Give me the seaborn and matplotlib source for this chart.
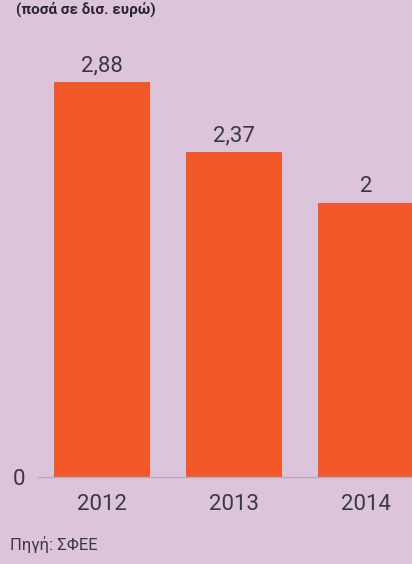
import matplotlib
matplotlib.use("Agg")
import matplotlib.pyplot as plt
import seaborn as sns
import pandas as pd

# --- Data ---
years = ["2012", "2013", "2014"]
values = [2.88, 2.37, 2.0]
title_text = "(ποσά σε δισ. ευρώ)"
source_text = "Πηγή: ΣΦΕΕ"

bg_color = "#dcc4dc"
bar_color = "#f3582a"
text_color = "#3a3846"

sns.set_style("white")
plt.rcParams["font.family"] = ["Roboto", "DejaVu Sans"]

df = pd.DataFrame({"year": years, "value": values})

fig = plt.figure(figsize=(4.12, 5.64), dpi=100, facecolor=bg_color)
ax = fig.add_axes([0.092, 0.154, 0.908, 0.846])
ax.set_facecolor(bg_color)

sns.barplot(data=df, x="year", y="value", color=bar_color, saturation=1,
            width=0.73, linewidth=0, ax=ax)

ax.set_xlim(-0.485, 2.348)
ax.set_ylim(0, 3.48)

# value labels with comma decimal separator
labels = [f"{v:g}".replace(".", ",") for v in values]
ax.bar_label(ax.containers[0], labels=labels, padding=4,
             fontsize=16, color=text_color)

ax.set_xlabel("")
ax.set_ylabel("")
ax.set_yticks([0])
ax.set_yticklabels(["0"])
ax.tick_params(axis="y", length=0, pad=9, labelsize=16, labelcolor=text_color)
ax.tick_params(axis="x", length=0, pad=12, labelsize=16, labelcolor=text_color)

for side in ["top", "right", "left"]:
    ax.spines[side].set_visible(False)
ax.spines["bottom"].set_color("#b9a9bf")
ax.spines["bottom"].set_linewidth(1)

# subtitle at top and source note
fig.text(0.04, 1 - 2 / 564, title_text, fontsize=11, fontweight="bold",
         color="#2a2630", va="top")
fig.text(0.025, 1 - 545 / 564, source_text, fontsize=12, color=text_color,
         va="center")

fig.savefig("out.png", dpi=100, facecolor=bg_color)
